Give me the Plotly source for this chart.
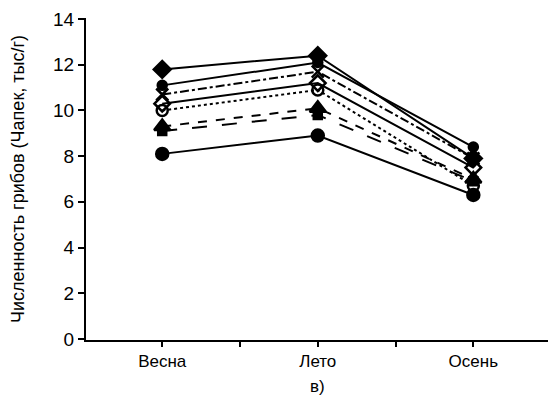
import plotly.graph_objects as go

seasons = ["Весна", "Лето", "Осень"]

# Численность грибов по вариантам, тыс/г
s_diamond = [11.8, 12.4, 7.9]
s_dot = [11.1, 12.1, 8.4]
s_cross = [10.7, 11.7, 7.9]
s_odiamond = [10.3, 11.2, 7.5]
s_ocircle = [10.0, 10.9, 6.7]
s_square = [9.1, 9.8, 6.9]
s_triangle = [9.3, 10.1, 7.0]
s_circle = [8.1, 8.9, 6.3]

y_ticks = [0, 2, 4, 6, 8, 10, 12, 14]

xpos = list(range(len(seasons)))

series = [
    (s_diamond, "solid", "diamond", 13),
    (s_dot, "solid", "circle", 9),
    (s_cross, "dashdot", "x-thin-open", 12),
    (s_odiamond, "solid", "diamond-open", 12),
    (s_ocircle, "dot", "circle-open", 11),
    (s_square, "longdash", "square", 8),
    (s_triangle, "dash", "triangle-up", 14),
    (s_circle, "solid", "circle", 12),
]

fig = go.Figure()
for vals, dash, sym, size in series:
    fig.add_trace(go.Scatter(
        x=xpos, y=vals, mode="lines+markers",
        line=dict(color="black", width=2, dash=dash),
        marker=dict(symbol=sym, size=size, color="black",
                    line=dict(color="black", width=2.5)),
        showlegend=False,
    ))

fig.update_layout(
    width=552, height=403,
    margin=dict(l=86, r=4, t=18, b=63),
    paper_bgcolor="white", plot_bgcolor="white",
    font=dict(family="Liberation Sans, Arial", size=18, color="black"),
    annotations=[dict(
        text="в)", x=1, y=-0.11, xref="x", yref="paper",
        showarrow=False, yanchor="top", font=dict(size=17),
    )],
)
fig.update_xaxes(
    range=[-0.49, 2.48], tickvals=xpos, ticktext=seasons,
    showgrid=False, zeroline=False, showline=True, linecolor="black",
    linewidth=2, ticks="outside", ticklen=5, tickwidth=2,
    tickcolor="black", tickfont=dict(size=17),
    minor=dict(ticks="outside", dtick=0.5, tick0=0, ticklen=5,
               tickwidth=2, tickcolor="black", showgrid=False),
)
fig.update_yaxes(
    range=[-0.05, 14.05], tickvals=y_ticks,
    showgrid=False, zeroline=False, showline=True, linecolor="black",
    linewidth=2, ticks="outside", ticklen=6, tickwidth=2,
    tickcolor="black", tickfont=dict(size=19),
    title=dict(text="Численность грибов (Чапек, тыс/г)",
               font=dict(size=18), standoff=24),
)

fig.write_html("out.html")
